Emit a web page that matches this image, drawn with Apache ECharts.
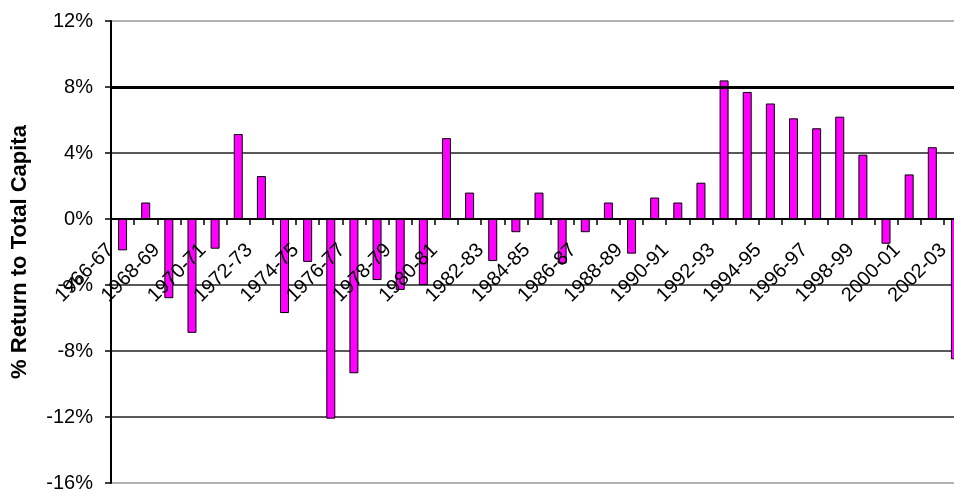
<!DOCTYPE html>
<html>
<head>
<meta charset="utf-8">
<script src="https://cdn.jsdelivr.net/npm/echarts@6/dist/echarts.min.js"></script>
<style>
  html, body { margin: 0; padding: 0; background: #fff; }
  #chart { width: 954px; height: 492px; }
</style>
</head>
<body>
<div id="chart"></div>
<script>
// Financial years shown on the category axis
const years = [
  '1966-67', '1967-68', '1968-69', '1969-70', '1970-71', '1971-72', '1972-73',
  '1973-74', '1974-75', '1975-76', '1976-77', '1977-78', '1978-79', '1979-80',
  '1980-81', '1981-82', '1982-83', '1983-84', '1984-85', '1985-86', '1986-87',
  '1987-88', '1988-89', '1989-90', '1990-91', '1991-92', '1992-93', '1993-94',
  '1994-95', '1995-96', '1996-97', '1997-98', '1998-99', '1999-00', '2000-01',
  '2001-02', '2002-03'
];

// Annual return to total capital, percent
const returns = [
  -1.9, 1.0, -4.8, -6.9, -1.8, 5.15, 2.6,
  -5.7, -2.6, -12.1, -9.35, -3.7, -4.3, -4.0,
  4.9, 1.6, -2.55, -0.8, 1.6, -2.7, -0.8,
  1.0, -2.1, 1.3, 1.0, 2.2, 8.4, 7.7,
  7.0, 6.1, 5.5, 6.2, 3.9, -1.5, 2.7,
  4.35, -8.5
];

// Value-axis range and step (percent)
const yMin = -16;
const yMax = 12;
const yStep = 4;

// Benchmark return drawn as a heavy rule
const benchmark = 8;

const FONT = '"Liberation Sans", Arial, sans-serif';

// Plot area geometry
const GRID_LEFT = 111;
const GRID_TOP = 21;
const GRID_WIDTH = 856;
const GRID_HEIGHT = 462;
// Lift the category axis (line, ticks and labels) from the bottom edge up to the 0% level
const zeroLift = GRID_HEIGHT * (0 - yMin) / (yMax - yMin);

const chart = echarts.init(document.getElementById('chart'), null, { renderer: 'canvas' });

chart.setOption({
  animation: false,
  backgroundColor: '#ffffff',
  grid: {
    left: GRID_LEFT,
    top: GRID_TOP,
    width: GRID_WIDTH,
    height: GRID_HEIGHT,
    containLabel: false,
    outerBoundsMode: 'none'
  },
  xAxis: {
    type: 'category',
    data: years,
    boundaryGap: true,
    position: 'bottom',
    offset: -zeroLift,
    z: 3,
    axisLine: {
      show: true,
      onZero: false,
      lineStyle: { color: '#000', width: 2 }
    },
    axisTick: {
      show: true,
      interval: 0,
      length: 6,
      lineStyle: { color: '#000', width: 1.5 }
    },
    axisLabel: {
      interval: 1,
      rotate: 45,
      margin: 16,
      padding: [0, 17, 0, 0],
      fontFamily: FONT,
      fontSize: 20,
      color: '#000'
    },
    splitLine: { show: false }
  },
  yAxis: {
    type: 'value',
    min: yMin,
    max: yMax,
    interval: yStep,
    name: '% Return to Total Capita',
    nameLocation: 'middle',
    nameGap: 80,
    nameTextStyle: {
      fontFamily: FONT,
      fontSize: 22,
      fontWeight: 'bold',
      color: '#000'
    },
    axisLine: {
      show: true,
      lineStyle: { color: '#000', width: 2 }
    },
    axisTick: {
      show: true,
      length: 6,
      lineStyle: { color: '#000', width: 1.5 }
    },
    axisLabel: {
      formatter: '{value}%',
      margin: 18,
      fontFamily: FONT,
      fontSize: 20,
      color: '#000'
    },
    splitLine: {
      show: true,
      lineStyle: {
        color: ['#9a9a9a', '#222', '#222', '#222', '#222', '#222', '#222', '#9a9a9a'],
        width: 1.5
      }
    }
  },
  series: [
    {
      // benchmark rule, kept beneath the bars
      type: 'line',
      data: [],
      z: 1,
      silent: true,
      markLine: {
        silent: true,
        symbol: ['none', 'none'],
        label: { show: false },
        lineStyle: { color: '#000', width: 3, type: 'solid' },
        data: [{ yAxis: benchmark }]
      }
    },
    {
      type: 'bar',
      data: returns,
      z: 2,
      barWidth: 9,
      itemStyle: {
        color: '#ff00ff',
        borderColor: '#000',
        borderWidth: 1
      }
    }
  ]
});
</script>
</body>
</html>
